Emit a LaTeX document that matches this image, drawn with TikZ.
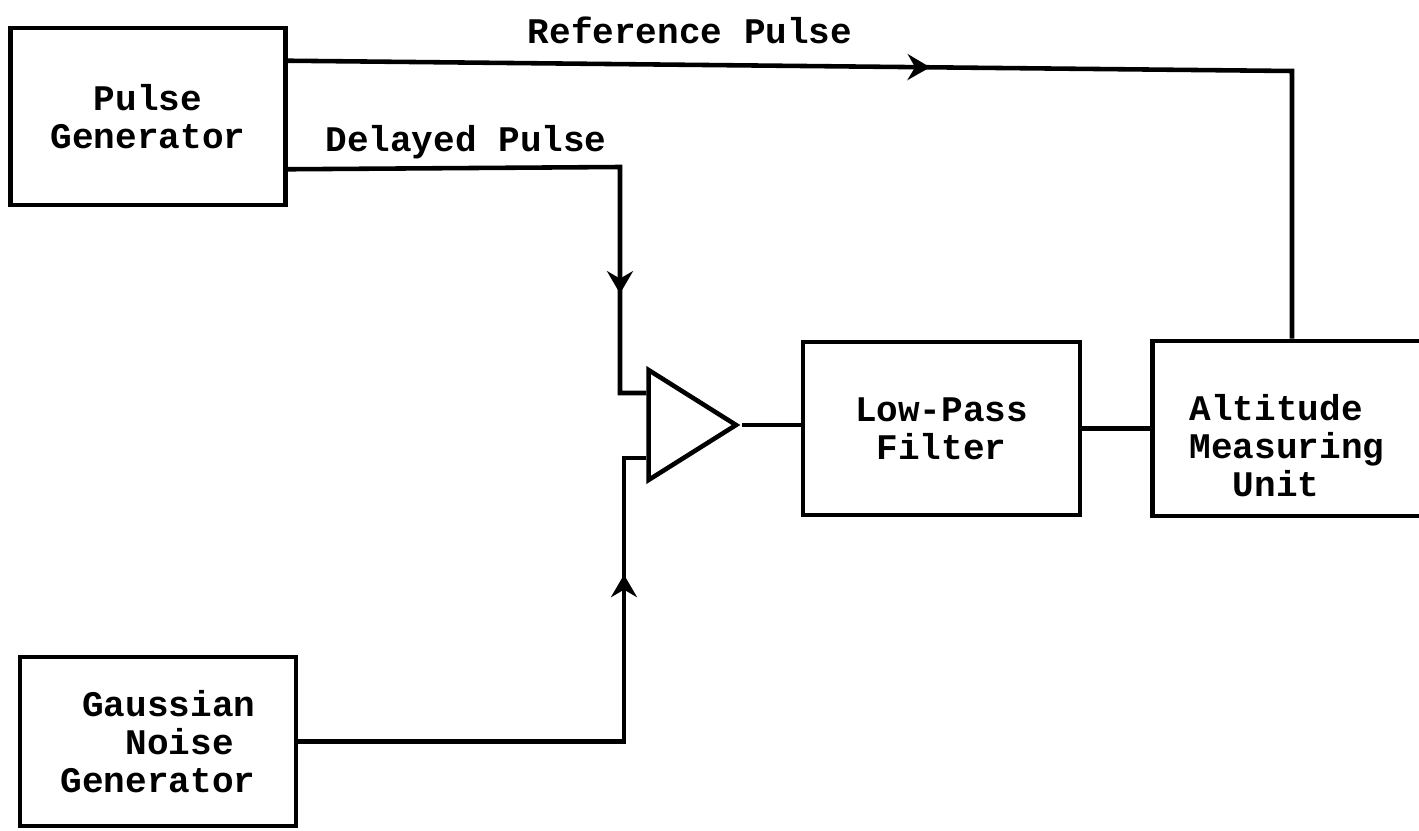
\documentclass[tikz,border=0pt]{standalone}
\usepackage{fontspec}
\setmonofont{Liberation Mono}
\usepackage{tikz}
\usetikzlibrary{arrows.meta,calc,positioning,shapes.geometric,decorations.markings}
\tikzset{
  bloque/.style={
    draw,
    line width=2.6pt,
    align=center,
    inner sep=0pt,
    font=\ttfamily\bfseries\fontsize{20.5}{21.5}\selectfont
  },
  etiqueta/.style={
    inner sep=0pt,
    font=\ttfamily\bfseries\fontsize{20.5}{21.5}\selectfont
  },
  amplif/.style={
    draw,
    line width=2.6pt,
    isosceles triangle,
    isosceles triangle stretches,
    minimum width=2.2cm,
    minimum height=1.75cm,
    inner sep=0pt
  },
  linea/.style={
    line width=2.6pt
  },
  flecha/.style={
    postaction={decorate},
    decoration={markings,
      mark=at position #1 with {\arrow{Stealth[length=4.5mm,width=5.2mm,inset=1.5mm]}}}
  }
}
\begin{document}
\begin{tikzpicture}[x=0.02cm,y=-0.02cm]
\useasboundingbox (0,0) rectangle (1419,831);
% blocks
\node[bloque, align=left, minimum width=5.5cm, minimum height=3.54cm] (pg) at (148,116.5) {~~Pulse~\\Generator~};
\node[bloque, align=left, minimum width=5.52cm, minimum height=3.38cm] (gng) at (158,741.5) {~Gaussian\\~~~Noise\\Generator};
\node[amplif, anchor=apex] (amp) at (742,425) {};
\node[bloque, minimum width=5.54cm, minimum height=3.46cm] (lpf) at (941.5,428.5) {Low-Pass\\Filter};
\node[bloque, align=left, minimum width=5.38cm, minimum height=3.5cm, right=1.36cm of lpf] (amu) {\rule{0pt}{1.2cm}Altitude\\Measuring\\~~Unit};
% labels
\node[etiqueta] (lref) at (690,30) {Reference Pulse};
\node[etiqueta] (ldel) at (466,142) {Delayed Pulse};
% corners
\coordinate (rp) at (1292,71);
\coordinate (dp) at (620,167);
\coordinate (gn) at (624,741.5);
\coordinate (in1) at ([yshift=0.64cm]amp.lower side);
\coordinate (in2) at ([yshift=-0.66cm]amp.lower side);
% connections
\draw[linea, flecha=0.505] ([yshift=-0.7cm]pg.north east) -- (rp) -- (rp |- amu.north);
\draw[linea, flecha=0.785] ([yshift=0.76cm]pg.south east) -- (dp) |- (in1);
\draw[linea, flecha=0.78] (gng.east) -- (gn) |- (in2);
\draw[linea] (amp.apex) -- (amp.apex -| lpf.west);
\draw[linea] (lpf.east) -- (lpf.east -| amu.west);
\end{tikzpicture}
\end{document}
